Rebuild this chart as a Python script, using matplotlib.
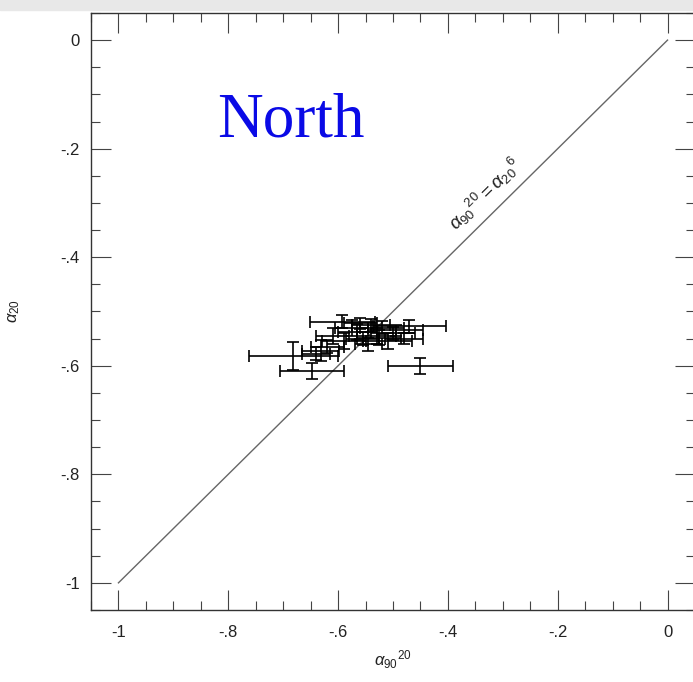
import matplotlib
matplotlib.use("Agg")
import matplotlib.pyplot as plt
from matplotlib.ticker import MultipleLocator, FuncFormatter
from matplotlib.patches import Rectangle

plt.rcParams["font.family"] = "Liberation Sans"
plt.rcParams["mathtext.fontset"] = "custom"
plt.rcParams["mathtext.rm"] = "Liberation Sans"
plt.rcParams["mathtext.it"] = "Liberation Sans:italic"

# Points: alpha_90^20 (x) against alpha_20 (y).
x_vals = [-0.450, -0.682, -0.647, -0.632, -0.640, -0.592, -0.560, -0.540,
          -0.575, -0.520, -0.470, -0.500, -0.530, -0.555, -0.510, -0.480,
          -0.590, -0.545, -0.495, -0.610, -0.620, -0.565, -0.525]
y_vals = [-0.601, -0.582, -0.610, -0.572, -0.578, -0.519, -0.522, -0.525,
          -0.530, -0.530, -0.527, -0.540, -0.545, -0.550, -0.555, -0.550,
          -0.555, -0.560, -0.535, -0.545, -0.565, -0.538, -0.548]
x_err = [0.060, 0.081, 0.058, 0.034, 0.025, 0.060, 0.030, 0.035,
         0.030, 0.040, 0.066, 0.040, 0.035, 0.030, 0.045, 0.035,
         0.040, 0.025, 0.050, 0.030, 0.030, 0.035, 0.040]
y_err = [0.015, 0.026, 0.015, 0.020, 0.012, 0.012, 0.010, 0.012,
         0.015, 0.012, 0.012, 0.012, 0.015, 0.012, 0.015, 0.010,
         0.015, 0.012, 0.010, 0.015, 0.012, 0.014, 0.013]

diag = [-1, 0]

fig = plt.figure(figsize=(6.93, 6.82), dpi=100)
fig.patches.append(Rectangle((0, 0.985), 1, 0.015, transform=fig.transFigure,
                             color="#e8e8e8", zorder=0))
ax = fig.add_axes([0.1313, 0.1056, 0.8716, 0.8754])

ax.plot(diag, diag, color="#666666", lw=1.0)
ax.errorbar(x_vals, y_vals, xerr=x_err, yerr=y_err, fmt="none",
            ecolor="black", elinewidth=1.2, capsize=4.5, capthick=1.2)

ax.set_xlim(-1.05, 0.05)
ax.set_ylim(-1.05, 0.05)

fmt = FuncFormatter(lambda v, p: "0" if abs(v) < 1e-9 else
                    ("-1" if abs(v + 1) < 1e-9 else f"{v:.1f}".replace("0.", ".")))
for axis in (ax.xaxis, ax.yaxis):
    axis.set_major_locator(MultipleLocator(0.2))
    axis.set_minor_locator(MultipleLocator(0.05))
    axis.set_major_formatter(fmt)

ax.tick_params(which="both", direction="in", top=True, right=True,
               color="#444444", width=0.8, labelsize=12, labelcolor="#222222")
ax.tick_params(which="major", length=14.5)
ax.tick_params(axis="x", which="major", pad=11)
ax.tick_params(axis="y", which="major", pad=8)
ax.tick_params(which="minor", length=6.5)
for s in ax.spines.values():
    s.set_color("#333333")
    s.set_linewidth(1.0)

ax.set_xlabel(r"$\alpha_{90}{}^{20}$", fontsize=12, labelpad=6, color="#222222")
ax.set_ylabel(r"$\alpha_{20}$", fontsize=12, labelpad=28, color="#222222")

ax.text(-0.333, -0.284, r"$\alpha_{90}{}^{20} = \alpha_{20}{}^{6}$",
        rotation=44.6, rotation_mode="anchor", ha="center", va="center",
        fontsize=13.5, color="#222222")
ax.text(-0.82, -0.1775, "North", family="Liberation Serif", fontsize=45.5,
        color="#0a0ae6", ha="left", va="baseline")

fig.savefig("out.png", dpi=100)
